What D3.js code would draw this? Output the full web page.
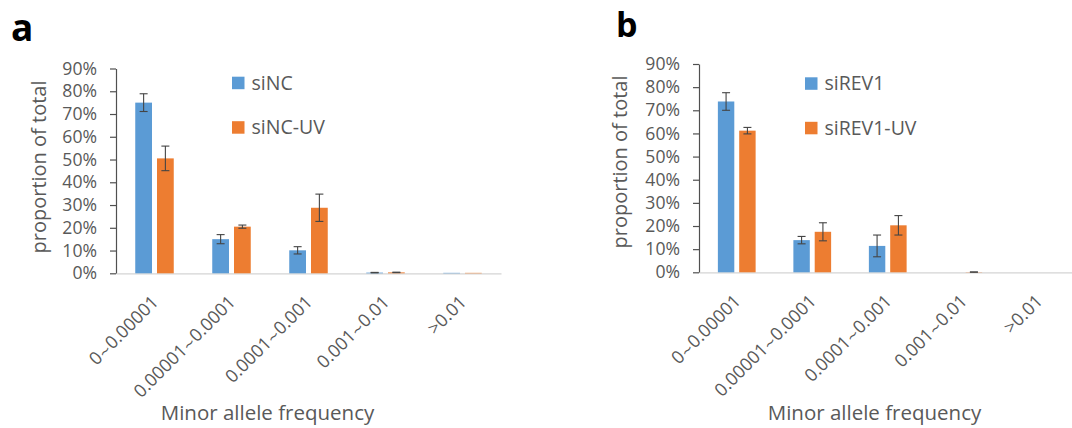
<!DOCTYPE html>
<html>
<head>
<meta charset="utf-8">
<script src="https://cdn.jsdelivr.net/npm/d3@7"></script>
<style>
  html, body { margin: 0; padding: 0; background: #fff; }
  svg { display: block; font-family: "Open Sans", "Noto Sans", sans-serif; }
</style>
</head>
<body>
<svg id="chart" width="1072" height="428"></svg>
<script>
// Minor allele frequency bins (x categories)
const categories = ["0~0.00001", "0.00001~0.0001", "0.0001~0.001", "0.001~0.01", ">0.01"];
// y tick values (proportions)
const yTicks = [0, 0.1, 0.2, 0.3, 0.4, 0.5, 0.6, 0.7, 0.8, 0.9];

// Panel a: control knockdown, with and without UV (mean and error)
const siNC       = [0.750, 0.150, 0.101, 0.003, 0.002];
const siNCErr    = [0.039, 0.020, 0.016, 0.001, 0];
const siNCUV     = [0.505, 0.205, 0.288, 0.004, 0.002];
const siNCUVErr  = [0.054, 0.007, 0.060, 0.001, 0];

// Panel b: REV1 knockdown, with and without UV (mean and error)
const siREV1      = [0.738, 0.139, 0.114, 0, 0];
const siREV1Err   = [0.038, 0.016, 0.047, 0, 0];
const siREV1UV    = [0.612, 0.175, 0.203, 0.001, 0];
const siREV1UVErr = [0.014, 0.039, 0.042, 0.0005, 0];

const seriesColors = ["#5b9bd5", "#ed7d31"];
const textColor = "#595959";

const svg = d3.select("#chart");
svg.append("rect").attr("width", 1072).attr("height", 428).attr("fill", "#fff");

function drawPanel(p) {
  const g = svg.append("g");

  const x = d3.scaleBand().domain(categories).range([p.x0, p.x1]).paddingInner(0).paddingOuter(0);
  const bw = x.bandwidth();
  const xs = d3.scaleBand().domain([0, 1])
    .range([bw / 2 - bw * 0.25, bw / 2 + bw * 0.25]).paddingInner(0.23).paddingOuter(0);
  const y = d3.scaleLinear().domain([0, 0.9]).range([p.yBottom, p.yTop]);

  // Panel letter
  g.append("text").attr("x", p.letterX).attr("y", p.letterY)
    .attr("font-size", p.letterSize).attr("font-weight", 700).attr("fill", "#000")
    .text(p.letter);

  // Y axis
  const yAxis = d3.axisLeft(y).tickValues(yTicks).tickFormat(d3.format(".0%"))
    .tickSizeInner(6).tickSizeOuter(0).tickPadding(13);
  const ya = g.append("g").attr("transform", `translate(${p.x0},0)`).call(yAxis);
  ya.select(".domain").attr("stroke", "#505050").attr("stroke-width", 1.2);
  ya.selectAll(".tick line").attr("stroke", "#505050").attr("stroke-width", 1.2);
  ya.selectAll(".tick text").attr("fill", textColor).attr("font-size", 17.6)
    .attr("font-family", "Open Sans, sans-serif");

  // X axis (light baseline, rotated labels)
  const xAxis = d3.axisBottom(x).tickSize(0).tickPadding(0);
  const xa = g.append("g").attr("transform", `translate(0,${p.yBottom})`).call(xAxis);
  xa.select(".domain").attr("stroke", "#d4d4d4").attr("stroke-width", 1.2);
  xa.selectAll(".tick text")
    .attr("fill", textColor).attr("font-size", 18).attr("font-family", "Open Sans, sans-serif")
    .attr("text-anchor", "end").attr("dy", 0).attr("y", 0)
    .attr("transform", "translate(5,30) rotate(-45)")
    .each(function (d) {
      // split on the tilde so it can use a font with a clearly wavy glyph
      const t = d3.select(this).text("");
      d.split(/(~)/).forEach(part => {
        if (!part) return;
        const ts = t.append("tspan").text(part);
        if (part === "~") ts.attr("font-family", "DejaVu Sans, sans-serif").attr("font-size", 14.5);
      });
    });

  // Bars
  p.series.forEach((s, si) => {
    g.append("g").selectAll("rect").data(s.values).join("rect")
      .attr("x", (d, i) => x(categories[i]) + xs(si))
      .attr("width", xs.bandwidth())
      .attr("y", d => y(d))
      .attr("height", d => Math.max(0, y(0) - y(d)))
      .attr("fill", seriesColors[si]);
  });

  // Error bars
  p.series.forEach((s, si) => {
    const eg = g.append("g").attr("stroke", "#444").attr("stroke-width", 1.1).attr("fill", "none");
    s.values.forEach((v, i) => {
      const e = s.errors[i];
      if (!(e > 0)) return;
      const cx = x(categories[i]) + xs(si) + xs.bandwidth() / 2;
      const hi = y(v + e), lo = y(Math.max(0, v - e));
      eg.append("line").attr("x1", cx).attr("x2", cx).attr("y1", hi).attr("y2", lo);
      eg.append("line").attr("x1", cx - 4).attr("x2", cx + 4).attr("y1", hi).attr("y2", hi);
      eg.append("line").attr("x1", cx - 4).attr("x2", cx + 4).attr("y1", lo).attr("y2", lo);
    });
  });

  // Legend
  p.series.forEach((s, si) => {
    const ly = p.legendY + si * 44.5;
    g.append("rect").attr("x", p.legendX).attr("y", ly).attr("width", 12.5).attr("height", 12.5)
      .attr("fill", seriesColors[si]);
    g.append("text").attr("x", p.legendX + 19.5).attr("y", ly + 13)
      .attr("font-size", 19.5).attr("fill", textColor).text(s.name);
  });

  // Axis titles
  g.append("text")
    .attr("transform", `translate(${p.yTitleX},${p.yTitleY}) rotate(-90)`)
    .attr("text-anchor", "middle").attr("font-size", 20).attr("fill", textColor)
    .text("proportion of total");
  g.append("text").attr("x", p.xTitleX).attr("y", 420)
    .attr("text-anchor", "middle").attr("font-size", 20.5).attr("fill", textColor)
    .text("Minor allele frequency");
}

drawPanel({
  letter: "a", letterX: 11, letterY: 41, letterSize: 37,
  x0: 116, x1: 501, yTop: 68.5, yBottom: 273.3,
  legendX: 232, legendY: 76.7,
  yTitleX: 46, yTitleY: 167, xTitleX: 267.5,
  series: [
    { name: "siNC", values: siNC, errors: siNCErr },
    { name: "siNC-UV", values: siNCUV, errors: siNCUVErr }
  ]
});

drawPanel({
  letter: "b", letterX: 616, letterY: 37, letterSize: 34,
  x0: 699, x1: 1076.5, yTop: 64, yBottom: 272.3,
  legendX: 805, legendY: 77.3,
  yTitleX: 627, yTitleY: 162, xTitleX: 874.5,
  series: [
    { name: "siREV1", values: siREV1, errors: siREV1Err },
    { name: "siREV1-UV", values: siREV1UV, errors: siREV1UVErr }
  ]
});
</script>
</body>
</html>
